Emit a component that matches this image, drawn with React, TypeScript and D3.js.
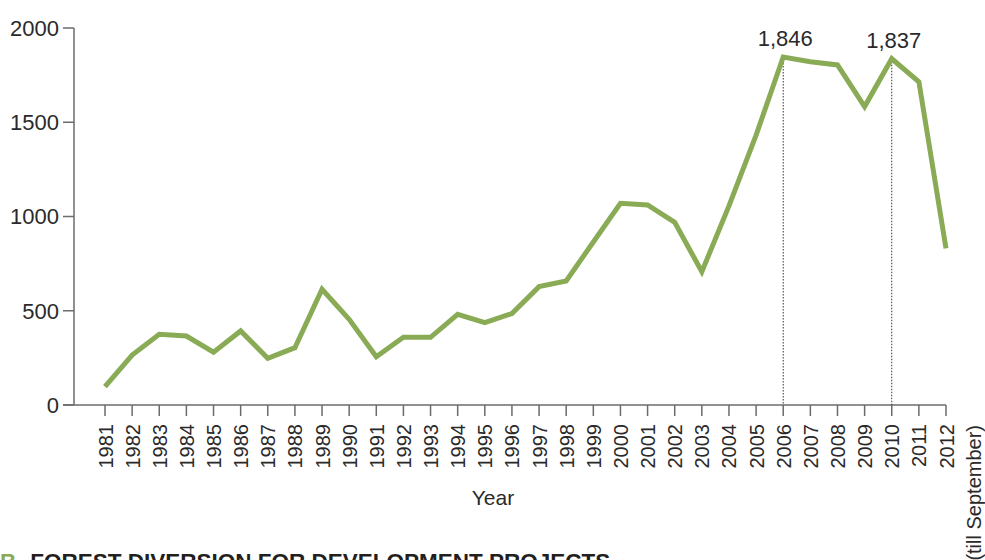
import React from "react";
import * as d3 from "d3";

const years: number[] = [1981,1982,1983,1984,1985,1986,1987,1988,1989,1990,1991,1992,1993,1994,1995,1996,1997,1998,1999,2000,2001,2002,2003,2004,2005,2006,2007,2008,2009,2010,2011,2012];
const values: number[] = [97,265,375,366,280,393,248,304,614,455,256,359,359,481,437,485,628,658,865,1070,1061,969,707,1056,1432,1846,1821,1804,1583,1837,1715,831];
const yTicks: number[] = [0,500,1000,1500,2000];
const annotations: { year: number; label: string }[] = [
  { year: 2006, label: "1,846" },
  { year: 2010, label: "1,837" },
];
const xTitle = "Year";
const lastYearNote = "(till September)";
const panelLetter = "B";
const panelTitle = "FOREST DIVERSION FOR DEVELOPMENT PROJECTS";

const W = 985, H = 560;
const LINE = "#8aab55";
const AXIS = "#6b6b6b";
const SANS = "'Liberation Sans', Arial, sans-serif";
const TXT = "#2a2a2a";

export default function App() {
  const x = d3.scaleLinear().domain([1981, 2012]).range([105, 946]);
  const y = d3.scaleLinear().domain([0, 2000]).range([405, 28]);
  const line = d3.line<number>().x((_, i) => x(years[i])).y((d) => y(d));
  const path = line(values) || "";
  const valueOf = (yr: number) => values[years.indexOf(yr)];

  return (
    <svg width={W} height={H} style={{ position: "absolute", left: 0, top: 0 }}>
      <rect width={W} height={H} fill="#fff" />
      {/* y axis */}
      <line x1={74} x2={74} y1={y(2000)} y2={y(0)} stroke={AXIS} strokeWidth={1.5} />
      {yTicks.map((t) => (
        <g key={t}>
          <line x1={63} x2={74} y1={y(t)} y2={y(t)} stroke={AXIS} strokeWidth={1.5} />
          <text x={59} y={y(t)} dy="0.36em" textAnchor="end" fontFamily={SANS} fontSize={22} fill={TXT}>
            {t}
          </text>
        </g>
      ))}
      {/* x axis */}
      <line x1={63} x2={x(2012)} y1={y(0)} y2={y(0)} stroke={AXIS} strokeWidth={1.5} />
      {years.map((yr) => (
        <g key={yr}>
          <line x1={x(yr)} x2={x(yr)} y1={y(0)} y2={y(0) + 11} stroke={AXIS} strokeWidth={1.5} />
          <text
            transform={`translate(${x(yr) + 7.5},424) rotate(-90)`}
            textAnchor="end"
            fontFamily={SANS}
            fontSize={20}
            fill={TXT}
          >
            {yr}
          </text>
        </g>
      ))}
      <text
        transform={`translate(${x(2012) + 35},425) rotate(-90)`}
        textAnchor="end"
        fontFamily={SANS}
        fontSize={20}
        fill={TXT}
      >
        {lastYearNote}
      </text>
      <text x={493} y={505} textAnchor="middle" fontFamily={SANS} fontSize={21} fill={TXT}>
        {xTitle}
      </text>
      {/* annotations */}
      {annotations.map((a) => (
        <g key={a.year}>
          <line
            x1={x(a.year)}
            x2={x(a.year)}
            y1={y(valueOf(a.year))}
            y2={y(0)}
            stroke="#333"
            strokeWidth={1}
            strokeDasharray="1.5,1.5"
          />
          <text
            x={x(a.year) + 2}
            y={y(valueOf(a.year)) - 11}
            textAnchor="middle"
            fontFamily={SANS}
            fontSize={22}
            fill={TXT}
          >
            {a.label}
          </text>
        </g>
      ))}
      <path d={path} fill="none" stroke={LINE} strokeWidth={5} strokeLinejoin="miter" />
      {/* panel title, cut at bottom as in the source */}
      <text x={0} y={569} fontFamily={SANS} fontWeight="bold" fontSize={22.5}>
        <tspan fill={LINE}>{panelLetter}</tspan>
        <tspan dx={14} fill="#231f20">{panelTitle}</tspan>
      </text>
    </svg>
  );
}
